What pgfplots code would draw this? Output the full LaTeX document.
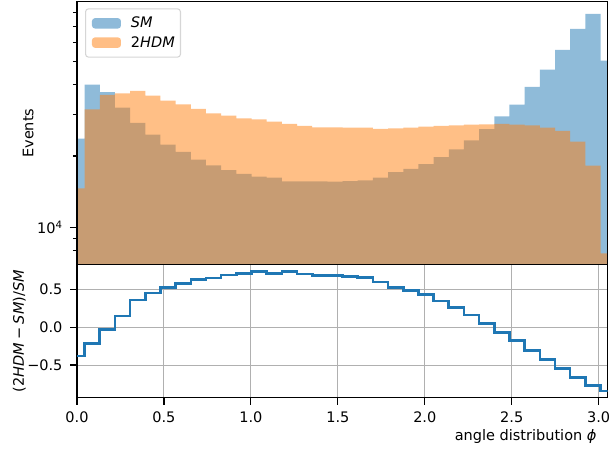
\documentclass[border=0pt]{standalone}
\usepackage{fontspec}
\setmainfont{DejaVu Sans}
\usepackage{pgfplots}
\pgfplotsset{compat=1.18}
\definecolor{c0}{HTML}{1F77B4}
\definecolor{c1}{HTML}{FF7F0E}
\definecolor{gridgray}{HTML}{B0B0B0}
\definecolor{legedge}{HTML}{CCCCCC}
\newcommand{\fs}{\fontsize{14.5}{17.4}\selectfont}

\begin{document}
\begin{tikzpicture}[x=1pt,y=1pt]
\path[use as bounding box] (0,0) rectangle (609,451);
\pgfplotsset{
  panel/.style={
    scale only axis, width=530.7pt, anchor=south west,
    xmin=0, xmax=3.052,
    axis line style={black, line width=1.2pt},
    tick style={black, line width=1.2pt},
    tick align=outside, major tick length=7pt, minor tick length=4pt,
    xtick pos=bottom, ytick pos=left,
    tick label style={font=\fs},
    label style={font=\fs},
  },
  histpatch/.style={legend image code/.code={%
    \fill[##1] (2.7pt,-5.2pt) rectangle (31.7pt,5.2pt);
    \path (0pt,0pt) (39.7pt,0pt);}},
}

% upper panel: event counts per bin (log scale)
\begin{axis}[panel, at={(77pt,186.3pt)}, height=263pt,
  ymode=log, ymin=6990, ymax=89050,
  xtick=\empty,
  ytick={10000}, yticklabels={10\textsuperscript{4}},
  minor ytick={8000,9000,20000,30000,40000,50000,60000,70000,80000},
  yticklabel style={xshift=-4pt},
  ylabel={Events},
  ylabel style={at={(axis description cs:-0.0823,0.5)}, anchor=base, rotate=0},
  axis on top,
  legend style={at={(0.0151,0.975)}, anchor=north west, draw=legedge, line width=1.1pt,
    rounded corners=3pt, fill=white, fill opacity=0.8, text opacity=1, draw opacity=0.8,
    font=\fs, inner xsep=3.7pt, inner ysep=6.4pt, row sep=3pt},
  legend cell align=left,
]
\addplot[draw=none, fill=c0, fill opacity=0.5, const plot mark left, histpatch] coordinates {
(-0.043633,6000) (-0.043633,23651) (0.043633,39898) (0.130900,37112) (0.218166,31922)
(0.305433,27542) (0.392699,24629) (0.479966,22319) (0.567232,20833) (0.654498,19308)
(0.741765,18278) (0.829031,17434) (0.916298,16834) (1.003564,16374) (1.090831,16243)
(1.178097,15651) (1.265364,15662) (1.352630,15670) (1.439897,15633) (1.527163,15695)
(1.614430,15817) (1.701696,16223) (1.788962,17132) (1.876229,17653) (1.963495,18477)
(2.050762,19815) (2.138028,21356) (2.225295,23273) (2.312561,25929) (2.399828,29365)
(2.487094,32916) (2.574361,39029) (2.661627,46095) (2.748894,55899) (2.836160,68393)
(2.923426,79217) (3.010693,50355) (3.097959,50355) (3.097959,6000)
} -- cycle;
\addlegendentry{\textit{SM}}
\addplot[draw=none, fill=c1, fill opacity=0.5, const plot mark left, histpatch] coordinates {
(-0.043633,6000) (-0.043633,14640) (0.043633,31440) (0.130900,36110) (0.218166,36710)
(0.305433,37540) (0.392699,35860) (0.479966,34170) (0.567232,33000) (0.654498,31530)
(0.741765,30250) (0.829031,29550) (0.916298,28820) (1.003564,28540) (1.090831,27890)
(1.178097,27280) (1.265364,26750) (1.352630,26420) (1.439897,26420) (1.527163,26320)
(1.614430,26320) (1.701696,25990) (1.788962,26160) (1.876229,26320) (1.963495,26570)
(2.050762,26750) (2.138028,26930) (2.225295,27090) (2.312561,27200) (2.399828,27280)
(2.487094,27090) (2.574361,26930) (2.661627,26320) (2.748894,25490) (2.836160,22980)
(2.923426,18220) (3.010693,7805) (3.097959,7805) (3.097959,6000)
} -- cycle;
\addlegendentry{2\textit{HDM}}
\end{axis}

% lower panel: relative difference per bin
\begin{axis}[panel, at={(77pt,53.5pt)}, height=132.8pt,
  ymin=-0.93, ymax=0.83,
  xtick={0,0.5,1,1.5,2,2.5,3}, xticklabels={0.0,0.5,1.0,1.5,2.0,2.5,3.0},
  ytick={-0.5,0,0.5}, yticklabels={−0.5,0.0,0.5},
  yticklabel style={xshift=-4pt},
  xticklabel style={yshift=-4pt},
  grid=major, grid style={gridgray, line width=1.1pt},
  xlabel={angle distribution \textit{ϕ}},
  xlabel style={at={(axis description cs:0.9855,-0.326)}, anchor=base east},
  ylabel={(2\textit{HDM}\hspace{0.22em}−\hspace{0.22em}\textit{SM})/\textit{SM}},
  ylabel style={at={(axis description cs:-0.0999,0.5)}, anchor=base, rotate=0},
]
\addplot[c0, line width=2.6pt, const plot mark left] coordinates {
(-0.043633,-0.381) (0.043633,-0.212) (0.130900,-0.027) (0.218166,0.150) (0.305433,0.363)
(0.392699,0.456) (0.479966,0.531) (0.567232,0.584) (0.654498,0.633) (0.741765,0.655)
(0.829031,0.695) (0.916298,0.712) (1.003564,0.743) (1.090831,0.717) (1.178097,0.743)
(1.265364,0.708) (1.352630,0.686) (1.439897,0.690) (1.527163,0.677) (1.614430,0.664)
(1.701696,0.602) (1.788962,0.527) (1.876229,0.491) (1.963495,0.438) (2.050762,0.350)
(2.138028,0.261) (2.225295,0.164) (2.312561,0.049) (2.399828,-0.071) (2.487094,-0.177)
(2.574361,-0.310) (2.661627,-0.429) (2.748894,-0.544) (2.836160,-0.664) (2.923426,-0.770)
(3.010693,-0.845) (3.097959,-0.845)
};
\end{axis}
\end{tikzpicture}
\end{document}
